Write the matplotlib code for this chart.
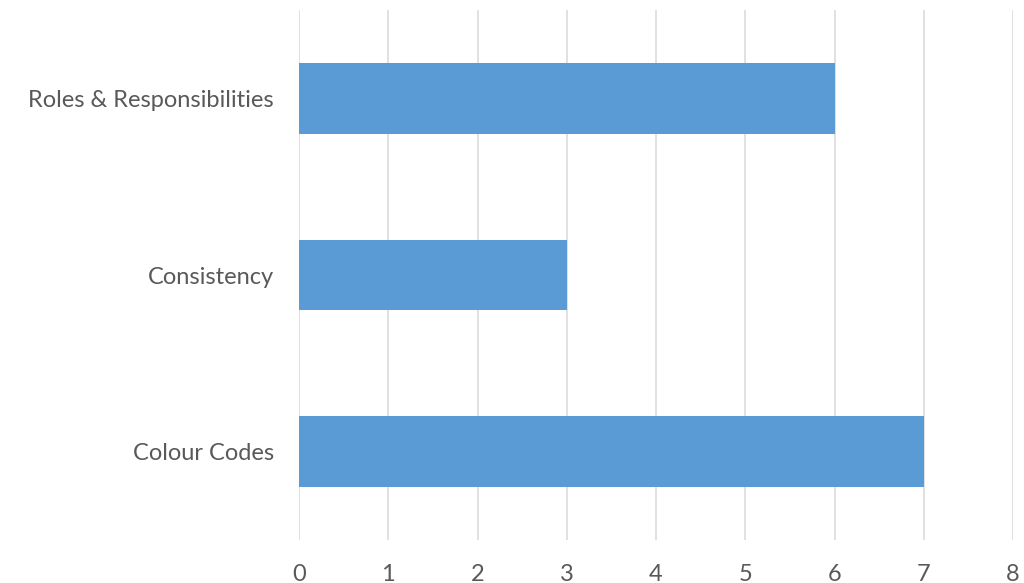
import matplotlib
matplotlib.use("Agg")
import matplotlib.pyplot as plt

# Donnees
categories = ['Colour Codes', 'Consistency', 'Roles & Responsibilities']
valeurs = [7, 3, 6]
ticks_x = [0, 1, 2, 3, 4, 5, 6, 7, 8]

plt.rcParams['font.family'] = ['Lato', 'DejaVu Sans']

fig = plt.figure(figsize=(10.24, 5.83), dpi=100)
ax = fig.add_axes([299 / 1024, 43 / 583, 714 / 1024, 530 / 583])

ax.barh(range(len(categories)), valeurs, height=0.4, color='#5B9BD5', zorder=3)

ax.set_xlim(0, 8)
ax.set_ylim(-0.5, len(categories) - 0.5)
ax.set_xticks(ticks_x)
ax.set_yticks(range(len(categories)))
ax.set_yticklabels(categories)

ax.grid(axis='x', color='#D9D9D9', linewidth=1.1, zorder=0)
for s in ax.spines.values():
    s.set_visible(False)
ax.tick_params(axis='both', length=0, labelcolor='#595959', labelsize=17)
ax.tick_params(axis='y', pad=18)
ax.tick_params(axis='x', pad=17)

fig.savefig("out.png", dpi=100, facecolor='white')
